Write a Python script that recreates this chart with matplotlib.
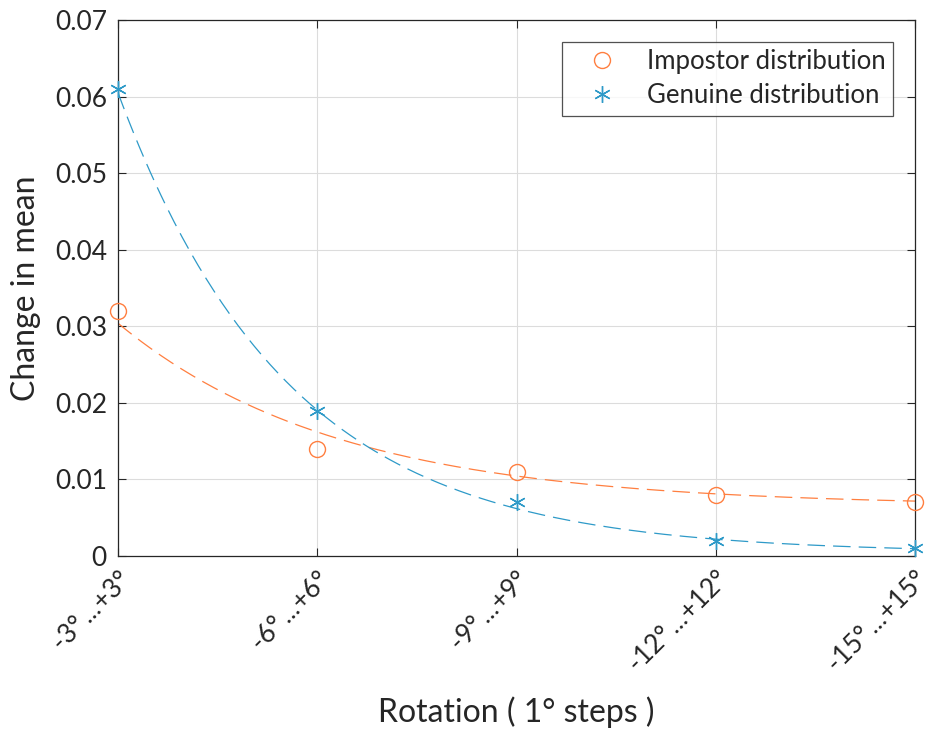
import matplotlib.pyplot as plt
import numpy as np

plt.rcParams['font.family'] = ['Lato', 'DejaVu Sans']

steps = [1, 2, 3, 4, 5]
tick_labels = ['-3°\u2009...+3°', '-6°\u2009...+6°', '-9°\u2009...+9°',
               '-12°\u2009...+12°', '-15°\u2009...+15°']
impostor = [0.032, 0.014, 0.011, 0.008, 0.007]
genuine = [0.061, 0.019, 0.007, 0.002, 0.001]

# exponential fit curves: y = c + A*exp(b*(x-1))
impostor_fit = (0.02387, -0.904, 0.00653)
genuine_fit = (0.0601, -1.17, 0.0004)

orange = '#FF7F40'
blue = '#2E9AC8'
dark = '#262626'


def fit_curve(t, coef):
    A, b, c = coef
    return c + A * np.exp(b * (t - 1))


fig = plt.figure(figsize=(9.27, 7.29), dpi=100)
ax = fig.add_axes([0.1273, 0.2373, 0.8598, 0.7353])

xs = np.linspace(1, 5, 300)
ax.plot(xs, fit_curve(xs, impostor_fit), color=orange, lw=0.9, dashes=(14, 6.5))
ax.plot(xs, fit_curve(xs, genuine_fit), color=blue, lw=0.9, dashes=(14, 6.5))
ax.plot(steps, impostor, 'o', ms=11.5, mfc='none', mec=orange, mew=1.0,
        clip_on=False, zorder=5, label='Impostor distribution')
ax.plot(steps, genuine, ls='none', marker=(6, 2, 0), ms=12, color=blue, mew=1.0,
        clip_on=False, zorder=5, label='Genuine distribution')

ax.set_xlim(1, 5)
ax.set_ylim(0, 0.07)
ax.set_xticks(steps)
ax.set_xticklabels(tick_labels, rotation=45, ha='right', rotation_mode='anchor')
ax.set_yticks(np.arange(0, 0.071, 0.01))
ax.set_yticklabels(['0', '0.01', '0.02', '0.03', '0.04', '0.05', '0.06', '0.07'])

ax.grid(True, color='#DCDCDC', lw=0.8)
ax.set_axisbelow(True)
ax.tick_params(direction='in', length=6, width=0.8, colors=dark, labelsize=19,
               top=True, right=True, pad=8)
for s in ax.spines.values():
    s.set_color(dark)
    s.set_linewidth(0.9)

ax.set_xlabel('Rotation ( 1° steps )', fontsize=23, color=dark, labelpad=14)
ax.set_ylabel('Change in mean', fontsize=23, color=dark, labelpad=10)

leg = ax.legend(loc='upper right', fontsize=18.5, frameon=True, fancybox=False,
                edgecolor=dark, borderpad=0.3, handlelength=2.55, handletextpad=0.45,
                labelspacing=0.35, bbox_to_anchor=(0.9888, 0.9835))
leg.get_frame().set_linewidth(0.9)
for t in leg.get_texts():
    t.set_color(dark)

fig.savefig('out.png', dpi=100)
